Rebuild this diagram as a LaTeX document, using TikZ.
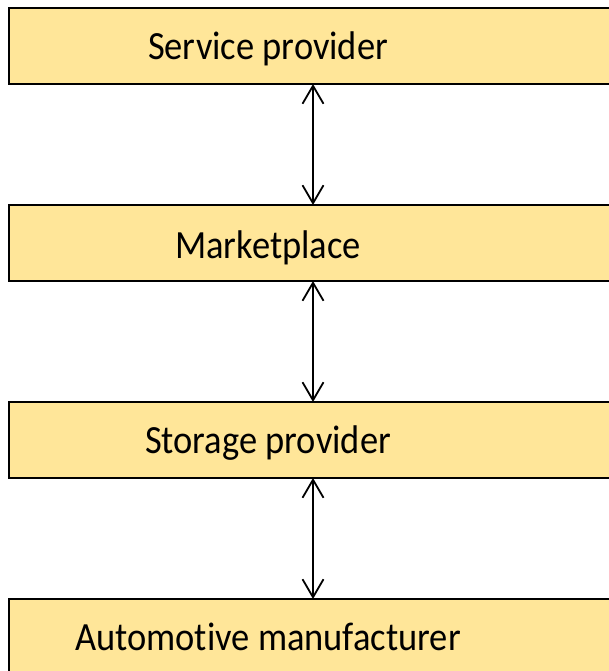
\documentclass[tikz,border=0pt]{standalone}
\usepackage{fontspec}
\setmainfont[FakeStretch=0.912,Ligatures=NoCommon]{Carlito}
\usetikzlibrary{arrows.meta}
\definecolor{boxfill}{HTML}{FFE699}
\tikzset{
  layer/.style={draw=black, line width=2pt, fill=boxfill, rectangle,
    minimum width=620pt, minimum height=76pt, inner sep=0pt, outer sep=0pt,
    anchor=north west},
  caption/.style={anchor=base, inner sep=0pt, font=\fontsize{40}{48}\selectfont},
  vhead/.tip={Straight Barb[length=18pt,width=21pt,line width=1.8pt]},
  link/.style={line width=1.6pt, vhead-vhead}
}
\begin{document}
\begin{tikzpicture}[x=1pt,y=-1pt]
  \useasboundingbox (0,0) rectangle (609,671);
  \begin{scope}
    \clip (0,0) rectangle (609,671);
    \node[layer] (sp) at (9,8) {};
    \node[layer] (mp) at (9,205) {};
    \node[layer] (st) at (9,402) {};
    \node[layer] (am) at (9,599) {};
  \end{scope}
  \node[caption] (tsp) at (268,60) {Service provider};
  \node[caption] (tmp) at (268,258) {Marketplace};
  \node[caption] (tst) at (268,453) {Storage provider};
  \node[caption] (tam) at (268,650) {Automotive manufacturer};
  \coordinate (ax) at (313,0);
  \draw[link] (sp.south -| ax) -- (mp.north -| ax);
  \draw[link] (mp.south -| ax) -- (st.north -| ax);
  \draw[link] (st.south -| ax) -- (am.north -| ax);
\end{tikzpicture}
\end{document}
